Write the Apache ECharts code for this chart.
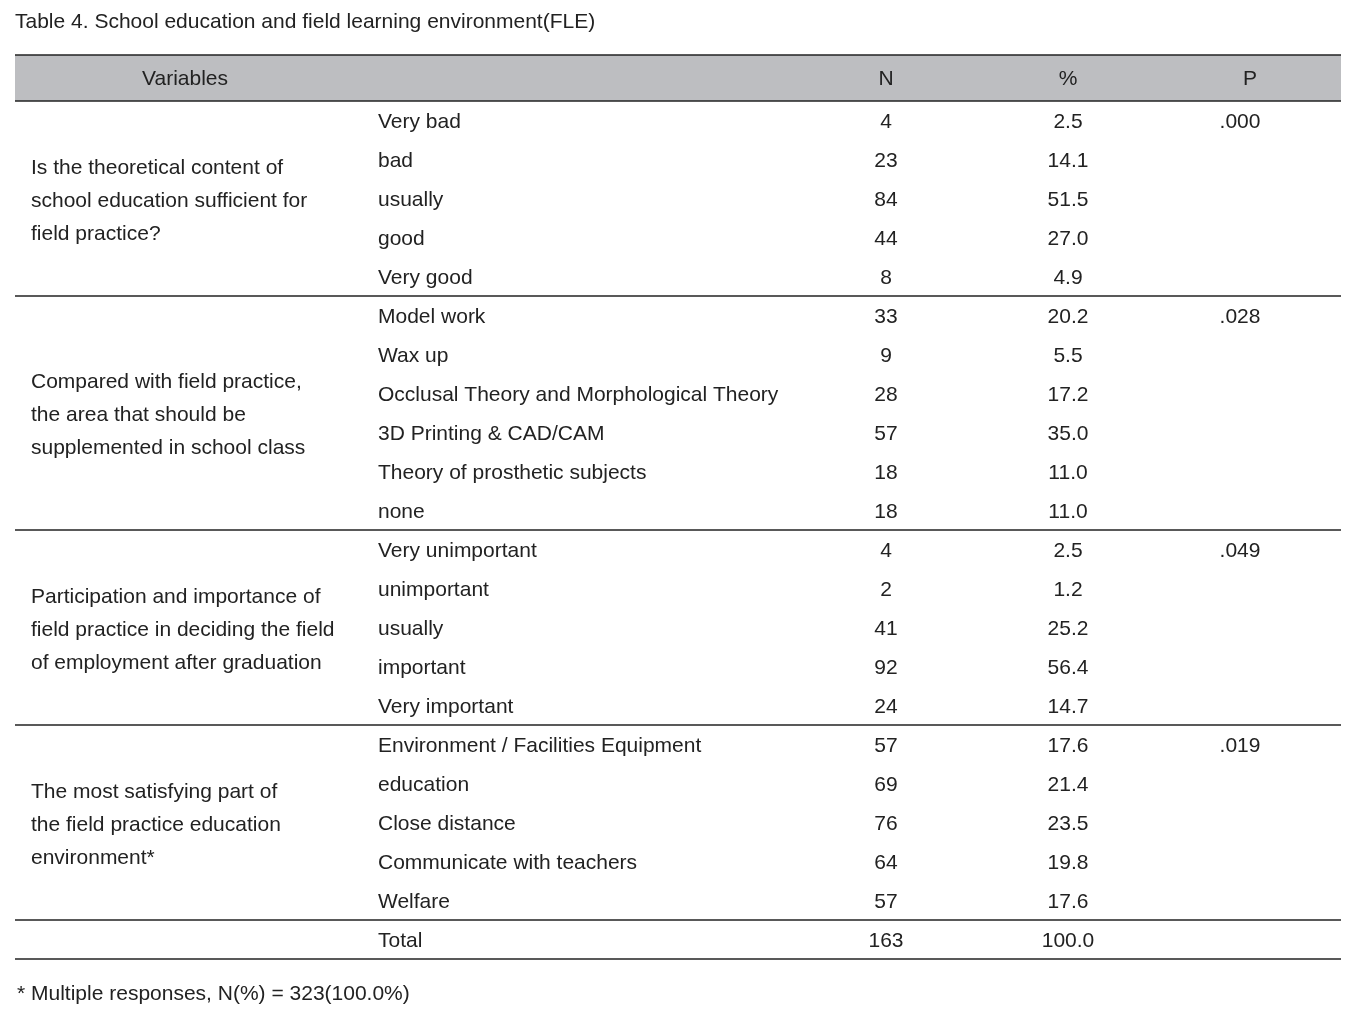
<!DOCTYPE html>
<html>
<head>
<meta charset="utf-8">
<script src="https://cdn.jsdelivr.net/npm/echarts@6/dist/echarts.min.js"></script>
<style>
  html, body { margin: 0; padding: 0; background: #fff; }
  #main { width: 1356px; height: 1020px; }
</style>
</head>
<body>
<div id="main"></div>
<script>
var titleText = "Table 4. School education and field learning environment(FLE)";
var headers = ["Variables", "N", "%", "P"];
var groupLabels = [
  ["Is the theoretical content of", "school education sufficient for", "field practice?"],
  ["Compared with field practice,", "the area that should be", "supplemented in school class"],
  ["Participation and importance of", "field practice in deciding the field", "of employment after graduation"],
  ["The most satisfying part of", "the field practice education", "environment*"]
];
var categories = [
  ["Very bad", "bad", "usually", "good", "Very good"],
  ["Model work", "Wax up", "Occlusal Theory and Morphological Theory", "3D Printing & CAD/CAM", "Theory of prosthetic subjects", "none"],
  ["Very unimportant", "unimportant", "usually", "important", "Very important"],
  ["Environment / Facilities Equipment", "education", "Close distance", "Communicate with teachers", "Welfare"]
];
var counts = [
  [4, 23, 84, 44, 8],
  [33, 9, 28, 57, 18, 18],
  [4, 2, 41, 92, 24],
  [57, 69, 76, 64, 57]
];
var percents = [
  ["2.5", "14.1", "51.5", "27.0", "4.9"],
  ["20.2", "5.5", "17.2", "35.0", "11.0", "11.0"],
  ["2.5", "1.2", "25.2", "56.4", "14.7"],
  ["17.6", "21.4", "23.5", "19.8", "17.6"]
];
var pValues = [".000", ".028", ".049", ".019"];
var totalRow = ["Total", "163", "100.0"];
var footnote = "* Multiple responses, N(%) = 323(100.0%)";

var chart = echarts.init(document.getElementById("main"));

var left = 15, right = 1341;
var headTop = 55, headBottom = 101;
var rowTop = 101, rowH = 39;
var font = "Liberation Sans";
var fs = 21;
var color = "#222";

function txt(x, y, s, align, size) {
  return {
    type: "text",
    style: {
      x: x, y: y + 1.5, text: s,
      fill: color,
      font: (size || fs) + "px '" + font + "'",
      textAlign: align || "left",
      textVerticalAlign: "middle"
    }
  };
}
function hline(y, w) {
  return {
    type: "line",
    shape: { x1: left, y1: y, x2: right, y2: y },
    style: { stroke: "#222", lineWidth: w || 1.3 }
  };
}

var els = [];
els.push(txt(15, 21, titleText, "left", 21));
// header band
els.push({
  type: "rect",
  shape: { x: left, y: headTop, width: right - left, height: headBottom - headTop },
  style: { fill: "#bdbec1" }
});
els.push(hline(headTop));
els.push(hline(headBottom));
els.push(txt(185, 78, headers[0], "center"));
els.push(txt(886, 78, headers[1], "center"));
els.push(txt(1068, 78, headers[2], "center"));
els.push(txt(1250, 78, headers[3], "center"));

var r = 0;
categories.forEach(function (cats, g) {
  var start = r;
  cats.forEach(function (c, i) {
    var y = rowTop + rowH * r + rowH / 2;
    els.push(txt(378, y, c, "left"));
    els.push(txt(886, y, String(counts[g][i]), "center"));
    els.push(txt(1068, y, percents[g][i], "center"));
    if (i === 0) els.push(txt(1240, y, pValues[g], "center"));
    r++;
  });
  var mid = rowTop + rowH * (start + r) / 2 + 1;
  var lines = groupLabels[g];
  lines.forEach(function (l, k) {
    els.push(txt(31, mid + (k - (lines.length - 1) / 2) * 33, l, "left"));
  });
  els.push(hline(rowTop + rowH * r));
});
var ty = rowTop + rowH * r + rowH / 2;
els.push(txt(378, ty, totalRow[0], "left"));
els.push(txt(886, ty, totalRow[1], "center"));
els.push(txt(1068, ty, totalRow[2], "center"));
els.push(hline(rowTop + rowH * (r + 1)));
els.push(txt(17, 993, footnote, "left"));

chart.setOption({
  backgroundColor: "#fff",
  graphic: { elements: els }
});
</script>
</body>
</html>
